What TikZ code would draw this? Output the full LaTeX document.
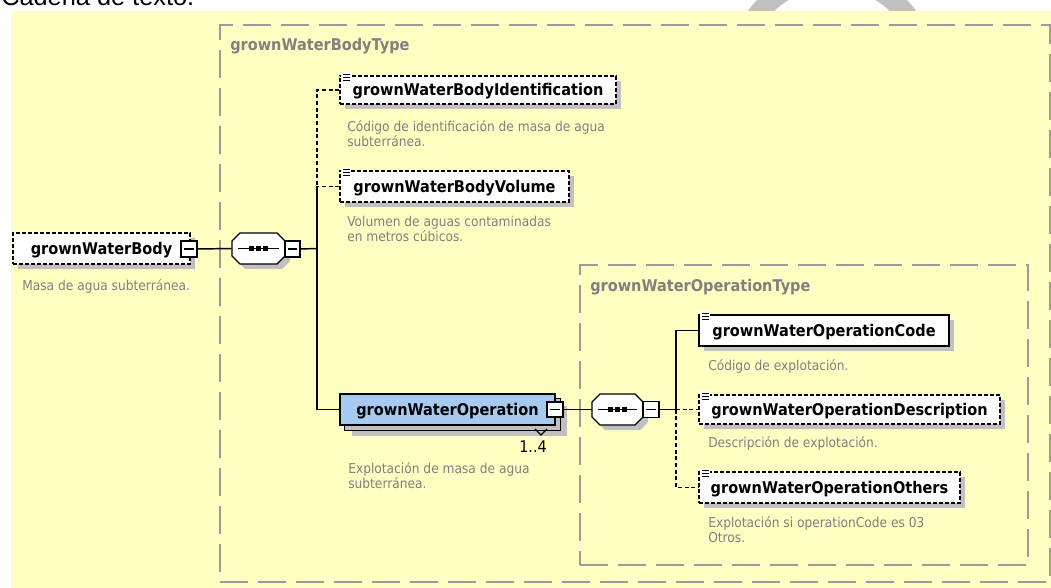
\documentclass[tikz,border=0pt]{standalone}
\usepackage{fontspec}
\setmainfont[FakeStretch=0.9]{DejaVu Sans}
\newfontfamily\arialf{Liberation Sans}
\usetikzlibrary{fit}

\definecolor{bgyellow}{RGB}{255,255,194}
\definecolor{shadowgray}{RGB}{192,192,192}
\definecolor{descgray}{RGB}{128,128,128}
\definecolor{boxgray}{RGB}{155,155,155}
\definecolor{opblue}{RGB}{166,202,240}

\newcommand\namefont{\fontsize{12.1}{14}\selectfont\bfseries}
\newcommand\descfont{\fontsize{10.2}{11.25}\selectfont}

\tikzset{
  elem/.style={draw=black, line width=1pt, fill=white, inner sep=0pt, font=\namefont, text height=1em, text depth=0.1em},
  optional/.style={dash pattern=on 3pt off 1.5pt},
  desc/.style={anchor=north west, inner sep=0pt, align=left, font=\descfont, text=descgray},
  typetitle/.style={anchor=west, inner sep=0pt, font=\namefont, text=descgray},
  typebox/.style={draw=boxgray, line width=1.5pt, dash pattern=on 21pt off 7.5pt, inner sep=0pt},
  conn/.style={draw=black, line width=1.1pt},
  optconn/.style={conn, dash pattern=on 3pt off 2pt},
  minusbox/.style={draw=black, line width=0.8pt, fill=white, inner sep=0pt},
  anchorbox/.style={inner sep=0pt},
}

% element box: name, x1, y1, x2, y2, extra style, text
\newcommand\xelem[7]{%
  \fill[shadowgray] (#2+5,#3+5) rectangle (#4+5,#5+5);
  \node[elem,#6,minimum width={(#4-#2)*0.75pt},minimum height={(#5-#3)*0.75pt}] (#1) at ({(#2+#4)/2},{(#3+#5)/2}) {#7};
}
% small "simple content" icon at top-left corner
\newcommand\xicon[2]{%
  \fill[white] (#1+1,#2-4) rectangle (#1+11,#2+6);
  \foreach \k in {-2,1,4} {\draw[line width=0.7pt] (#1+3,#2+\k) -- (#1+10,#2+\k);}
}
% minus box: name, x1, y1, x2, y2
\newcommand\xminus[5]{%
  \node[minusbox, fit={(#2,#3) (#4,#5)}] (#1) {};
  \draw[line width=0.8pt] (#2+3,{(#3+#5)/2}) -- (#4-3,{(#3+#5)/2});
}
% sequence compositor: name, x1, y1, x2, y2
\newcommand\xseq[5]{%
  \fill[shadowgray] (#2+8+5,#3+5) -- (#4-8+5,#3+5) -- (#4+5,#3+8+5) -- (#4+5,#5-8+5) -- (#4-8+5,#5+5) -- (#2+8+5,#5+5) -- (#2+5,#5-8+5) -- (#2+5,#3+8+5) -- cycle;
  \draw[line width=1pt, fill=white] (#2+8,#3) -- (#4-8,#3) -- (#4,#3+8) -- (#4,#5-8) -- (#4-8,#5) -- (#2+8,#5) -- (#2,#5-8) -- (#2,#3+8) -- cycle;
  \node[anchorbox, fit={(#2,#3) (#4,#5)}] (#1) {};
  \draw[line width=1pt] (#2+6,{(#3+#5)/2}) -- (#4-6,{(#3+#5)/2});
  \foreach \k in {-7,0,7} {\fill ({(#2+#4)/2+\k-2.5},{(#3+#5)/2-2.5}) rectangle ({(#2+#4)/2+\k+2.5},{(#3+#5)/2+2.5});}
}

\begin{document}
\begin{tikzpicture}[x=0.75pt,y=-0.75pt]
\useasboundingbox (0,0) rectangle (1051,588);

% page text and watermark above the diagram
\node[anchor=base west, inner sep=0pt, font=\arialf\fontsize{19}{22}\selectfont] (cadena) at (1,6) {Cadena de texto.};
\draw[shadowgray, line width=15pt] (832,72) circle (94);

% yellow background
\fill[bgyellow] (11,11) rectangle (1051,588);

% type boxes
\node[typebox, fit={(220,25) (1050,582)}] (tbody) {};
\node[typetitle] (tbodyt) at (230,46) {grownWaterBodyType};
\node[typebox, fit={(580,265) (1028,565)}] (toper) {};
\node[typetitle] (tbopert) at (590,287) {grownWaterOperationType};

% root element
\xelem{gwb}{13}{233}{190}{264}{optional}{grownWaterBody}
\xminus{gwbm}{181}{241}{197}{257}
\node[desc] (d0) at (22,279.5) {Masa de agua subterránea.};

% first sequence
\xseq{seqa}{232}{233}{285}{264}
\xminus{seqam}{285}{241}{300}{257}

% children of grownWaterBodyType
\xelem{bid}{340}{76}{616}{104}{optional}{grownWaterBodyIdentification}
\xicon{340}{76}
\node[desc] (d1) at (347,120.5) {Código de identificación de masa de agua\\subterránea.};

\xelem{bvol}{340}{171}{569}{202}{optional}{grownWaterBodyVolume}
\xicon{340}{171}
\node[desc] (d2) at (347,215.5) {Volumen de aguas contaminadas\\en metros cúbicos.};

% grownWaterOperation (repeated element)
\fill[shadowgray] (352,406) rectangle (567,436);
\draw[line width=1pt, fill=opblue] (345,399) rectangle (560,430);
\xelem{gwo}{340}{394}{555}{425}{fill=opblue}{grownWaterOperation}
\xminus{gwom}{547}{402}{563}{417}
\draw[line width=0.8pt] (535,429) -- (541,435) -- (547,429);
\node[inner sep=0pt, font=\fontsize{12}{14}\selectfont] (card) at (533,447) {1..4};
\node[desc] (d3) at (348,462.5) {Explotación de masa de agua\\subterránea.};

% second sequence
\xseq{seqb}{592}{394}{643}{425}
\xminus{seqbm}{643}{401.5}{659}{417.5}

% children of grownWaterOperationType
\xelem{ocode}{699}{315}{949}{346}{}{grownWaterOperationCode}
\xicon{699}{315}
\node[desc] (d4) at (708,359.5) {Código de explotación.};

\xelem{odesc}{699}{395}{1000}{424}{optional}{grownWaterOperationDescription}
\xicon{699}{395}
\node[desc] (d5) at (708,436.5) {Descripción de explotación.};

\xelem{oothers}{699}{472}{960}{503}{optional}{grownWaterOperationOthers}
\xicon{699}{472}
\node[desc] (d6) at (708,516.5) {Explotación si operationCode es 03\\Otros.};

% connectors
\coordinate (ja) at (317,248.5);
\coordinate (jb) at (676,409.5);
\draw[conn] (gwbm.east) -- (seqa.west);
\draw[conn] (seqam.east) -- (ja);
\draw[optconn] (bid.west) -| (ja);
\draw[optconn] (bvol.west) -| (ja);
\draw[conn] (ja) |- (gwo.west);
\draw[conn] (gwom.east) -- (seqb.west);
\draw[conn] (seqbm.east) -- (jb);
\draw[conn] (jb) |- (ocode.west);
\draw[optconn] (jb) -- (odesc.west);
\draw[optconn] (jb) |- (oothers.west);
\end{tikzpicture}
\end{document}
